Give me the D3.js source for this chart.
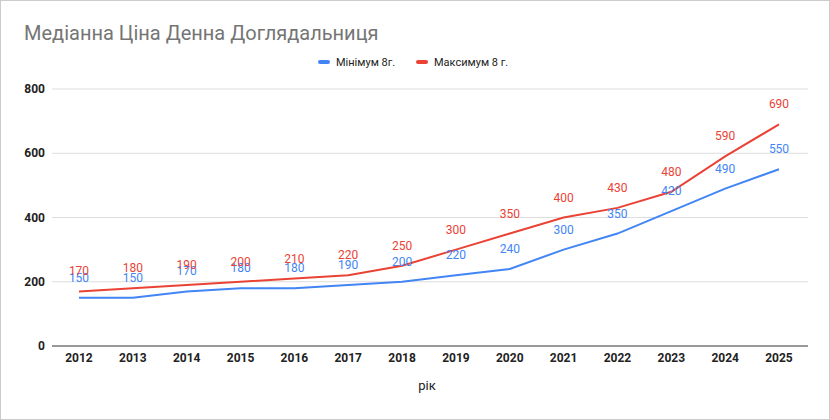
<!DOCTYPE html>
<html><head><meta charset="utf-8">
<script src="https://cdn.jsdelivr.net/npm/d3@7"></script>
<style>body{margin:0;background:#fff;font-family:Roboto,Arial,sans-serif}</style>
</head><body><div id="chart"></div>
<script>
const years = ['2012','2013','2014','2015','2016','2017','2018','2019','2020','2021','2022','2023','2024','2025'];
const minValues = [150,150,170,180,180,190,200,220,240,300,350,420,490,550];
const maxValues = [170,180,190,200,210,220,250,300,350,400,430,480,590,690];
const yTicks = [0,200,400,600,800];
const blue = '#4285f4', red = '#ea4335';

const W = 830, H = 420;
const svg = d3.select('#chart').append('svg').attr('width', W).attr('height', H);
svg.append('rect').attr('x',0.5).attr('y',0.5).attr('width',W-1).attr('height',H-1)
	.attr('fill','#fff').attr('stroke','#ccc');

svg.append('text').attr('x',24).attr('y',40).attr('font-size',20).attr('fill','#757575')
	.text('Медіанна Ціна Денна Доглядальниця');

const x = d3.scalePoint().domain(years).range([79,779]);
const y = d3.scaleLinear().domain([0,800]).range([346,89]);

// grid
svg.append('g').selectAll('line').data(yTicks).join('line')
	.attr('x1',52).attr('x2',808).attr('y1',d=>y(d)).attr('y2',d=>y(d))
	.attr('stroke',d=>d===0?'#333':'#ddd').attr('stroke-width',1);

svg.append('g').selectAll('text').data(yTicks).join('text')
	.attr('x',45).attr('y',d=>y(d)+4).attr('text-anchor','end')
	.attr('font-size',12).attr('font-weight','bold').attr('fill','#222').text(d=>d);

svg.append('g').selectAll('text').data(years).join('text')
	.attr('x',d=>x(d)).attr('y',362).attr('text-anchor','middle')
	.attr('font-size',12).attr('font-weight','bold').attr('fill','#222').text(d=>d);

svg.append('text').attr('x',427).attr('y',390).attr('text-anchor','middle')
	.attr('font-size',13).attr('fill','#222').text('рік');

const line = d3.line().x((d,i)=>x(years[i])).y(d=>y(d));
[[minValues,blue],[maxValues,red]].forEach(([vals,col])=>{
	svg.append('path').datum(vals).attr('d',line).attr('fill','none')
		.attr('stroke',col).attr('stroke-width',2);
});
[[minValues,blue],[maxValues,red]].forEach(([vals,col])=>{
	svg.append('g').selectAll('text').data(vals).join('text')
		.attr('x',(d,i)=>x(years[i])).attr('y',d=>y(d)-16).attr('text-anchor','middle')
		.attr('font-size',12).attr('fill',col).text(d=>d);
});

// legend
const legend = [['Мінімум 8г.',blue,318],['Максимум 8 г.',red,416]];
legend.forEach(([t,c,lx])=>{
	svg.append('rect').attr('x',lx).attr('y',60).attr('width',12).attr('height',4).attr('rx',2).attr('fill',c);
	svg.append('text').attr('x',lx+18).attr('y',66).attr('font-size',11).attr('fill','#222').text(t);
});
</script></body></html>
